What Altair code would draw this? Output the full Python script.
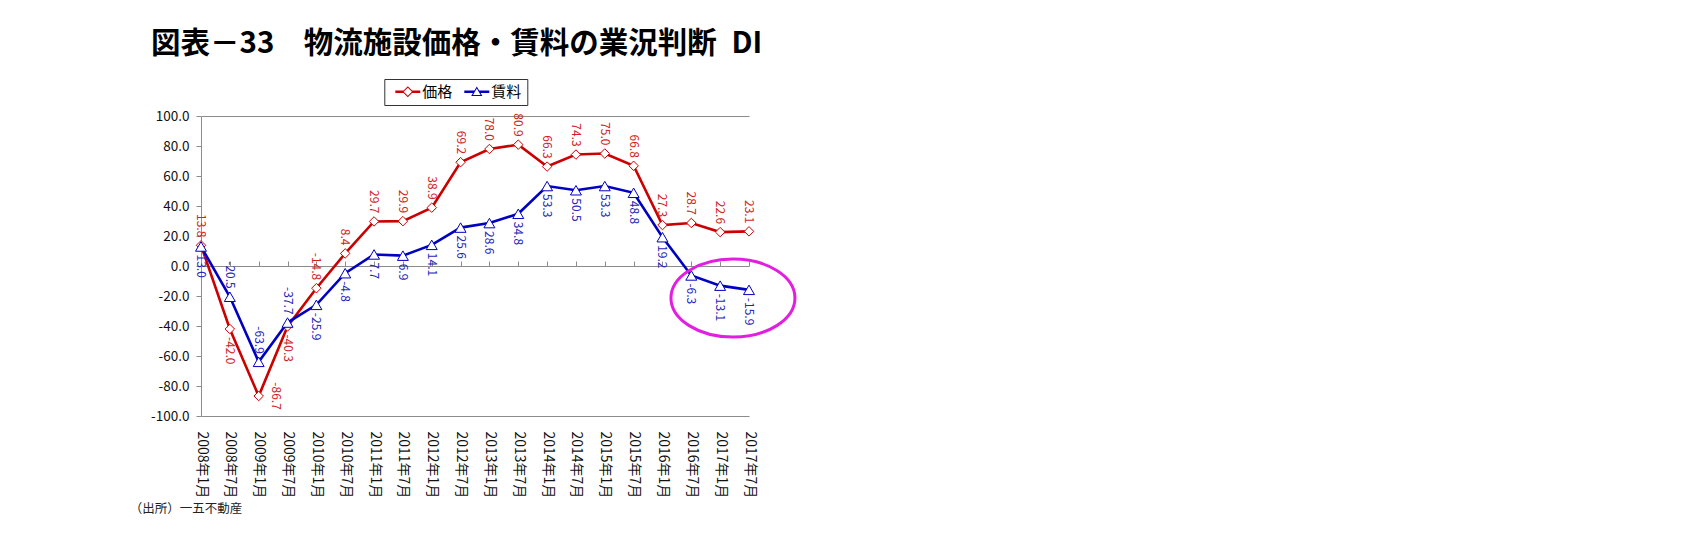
import altair as alt
import pandas as pd

# ---------------- data ----------------
dates = ["2008年1月", "2008年7月", "2009年1月", "2009年7月", "2010年1月", "2010年7月",
         "2011年1月", "2011年7月", "2012年1月", "2012年7月", "2013年1月", "2013年7月",
         "2014年1月", "2014年7月", "2015年1月", "2015年7月", "2016年1月", "2016年7月",
         "2017年1月", "2017年7月"]
price = [13.8, -42.0, -86.7, -40.3, -14.8, 8.4, 29.7, 29.9, 38.9, 69.2,
         78.0, 80.9, 66.3, 74.3, 75.0, 66.8, 27.3, 28.7, 22.6, 23.1]
rent = [13.0, -20.5, -63.9, -37.7, -25.9, -4.8, 7.7, 6.9, 14.1, 25.6,
        28.6, 34.8, 53.3, 50.5, 53.3, 48.8, 19.2, -6.3, -13.1, -15.9]
series = ["価格", "賃料"]
y_ticks = [-100, -80, -60, -40, -20, 0, 20, 40, 60, 80, 100]
title_text = "図表－33　物流施設価格・賃料の業況判断\u2002DI"
source_text = "（出所）一五不動産"

# ---------------- style ----------------
FONT = "Noto Sans CJK JP"
RED, RED_LBL = "#CC0000", "#D42222"
BLUE, BLUE_LBL = "#0000C0", "#2626BC"
MAGENTA = "#E21FE0"
GREY = "#8C8C8C"
W, H = 548, 300

rows = []
for d, p, r in zip(dates, price, rent):
    if p >= r:
        ppos, rpos = "above", "below"
    else:
        ppos, rpos = ("right" if p < -80 else "below"), "above"
    rows.append(dict(date=d, series=series[0], value=p, label=f"{p:.1f}", pos=ppos))
    rows.append(dict(date=d, series=series[1], value=r, label=f"{r:.1f}", pos=rpos))
df = pd.DataFrame(rows)

# highlighted region anchor (latest rent readings)
ell_df = pd.DataFrame({"date": [dates[-2]], "value": [rent[-2]]})


def fmt(v):
    return f"{v:.4f}".rstrip("0").rstrip(".")


# legend symbol paths (line + hollow marker), units of 7px, centre 7px from column left
S = 7.0
L, R, M, HB = -1.5, 23.5, 11.0, 1.3


def P(x, y):
    return f"{fmt(x / S)},{fmt(y / S)}"


a, b = 5.5, 4.1
diamond_path = (
    f"M{P(L, -HB)}L{P(M - a + 1.5, -HB)}L{P(M - a + 1.5, HB)}L{P(L, HB)}Z"
    f"M{P(M + a - 1.5, -HB)}L{P(R, -HB)}L{P(R, HB)}L{P(M + a - 1.5, HB)}Z"
    f"M{P(M, -a)}L{P(M + a, 0)}L{P(M, a)}L{P(M - a, 0)}Z"
    f"M{P(M, -b)}L{P(M - b, 0)}L{P(M, b)}L{P(M + b, 0)}Z"
)
ty, by, hw = -5.2, 4.3, 5.6
cy = (ty + 2 * by) / 3
k = 0.68
ity, iby, ihw = cy + k * (ty - cy), cy + k * (by - cy), k * hw
tri_path = (
    f"M{P(L, -HB)}L{P(M - 1.9, -HB)}L{P(M - 3.2, HB)}L{P(L, HB)}Z"
    f"M{P(M + 1.9, -HB)}L{P(R, -HB)}L{P(R, HB)}L{P(M + 3.2, HB)}Z"
    f"M{P(M, ty)}L{P(M + hw, by)}L{P(M - hw, by)}Z"
    f"M{P(M, ity)}L{P(M - ihw, iby)}L{P(M + ihw, iby)}Z"
)

# ellipse outline path (unit = 62px) offset from anchor point
ES = 62.0
ecx, ecy, erx, ery = 12.8 / ES, 12.4 / ES, 1.0, 39.0 / ES
kk = 0.5523
ellipse_path = (
    f"M{fmt(ecx + erx)},{fmt(ecy)}"
    f"C{fmt(ecx + erx)},{fmt(ecy + kk * ery)} {fmt(ecx + kk * erx)},{fmt(ecy + ery)} {fmt(ecx)},{fmt(ecy + ery)}"
    f"C{fmt(ecx - kk * erx)},{fmt(ecy + ery)} {fmt(ecx - erx)},{fmt(ecy + kk * ery)} {fmt(ecx - erx)},{fmt(ecy)}"
    f"C{fmt(ecx - erx)},{fmt(ecy - kk * ery)} {fmt(ecx - kk * erx)},{fmt(ecy - ery)} {fmt(ecx)},{fmt(ecy - ery)}"
    f"C{fmt(ecx + kk * erx)},{fmt(ecy - ery)} {fmt(ecx + erx)},{fmt(ecy - kk * ery)} {fmt(ecx + erx)},{fmt(ecy)}Z"
)

# ---------------- scales / axes ----------------
xs = alt.Scale(domain=dates, type="point", padding=0)
ys = alt.Scale(domain=[-100, 100], nice=False, zero=False)

y_axis = alt.Axis(
    values=y_ticks,
    labelExpr="replace(format(datum.value, '.1f'), '\u2212', '-')",
    title=None,
    domainColor=GREY, tickColor=GREY, tickSize=5,
    labelPadding=7, labelFont=FONT, labelFontSize=13.5, labelColor="#111",
    grid=True, gridColor=GREY, gridWidth=1,
    gridOpacity={"condition": {"test": "abs(datum.value) == 100", "value": 1}, "value": 0},
)
x_bottom = alt.Axis(
    orient="bottom", domain=False, ticks=False, grid=False,
    labelAngle=90, labelFont=FONT, labelFontSize=14, labelColor="#111",
    labelPadding=15, labelOverlap=False,
    title=source_text, titleFont=FONT, titleFontSize=12.5, titleFontWeight="normal",
    titleColor="#222", titleAnchor="start", titleAlign="left", titleBaseline="middle",
    titleX=-71.7, titleY=92,
)
x_top = alt.Axis(
    orient="top", offset=-H / 2, domain=True, domainColor=GREY,
    ticks=True, tickColor=GREY, tickSize=5, labels=False, title=None, grid=False,
)

yenc = alt.Y("value:Q", scale=ys, axis=y_axis)
x_none = alt.X("date:N", scale=xs, axis=None)

base = alt.Chart(df)
is_p = f"datum.series == '{series[0]}'"
is_r = f"datum.series == '{series[1]}'"

red_line = base.transform_filter(is_p).mark_line(color=RED, strokeWidth=2.6).encode(
    x=alt.X("date:N", scale=xs, axis=x_bottom), y=yenc)
red_pts = base.transform_filter(is_p).mark_point(
    shape="diamond", size=90, filled=True, fill="white", stroke=RED, strokeWidth=1, opacity=1
).encode(x=x_none, y=yenc)
blue_line = base.transform_filter(is_r).mark_line(color=BLUE, strokeWidth=2.6).encode(
    x=alt.X("date:N", scale=xs, axis=x_top), y=yenc)
blue_pts = base.transform_filter(is_r).mark_point(
    shape="triangle-up", size=120, filled=True, fill="white", stroke=BLUE, strokeWidth=1, opacity=1
).encode(x=x_none, y=yenc)


def labels(cond, pos, color):
    kw = dict(angle=90, font=FONT, fontSize=12, color=color, baseline="middle")
    if pos == "above":
        kw.update(align="right", dx=-8)
    elif pos == "below":
        kw.update(align="left", dx=8)
    else:
        kw.update(align="center", dy=-17)
    return base.transform_filter(f"{cond} && datum.pos == '{pos}'").mark_text(**kw).encode(
        x=x_none, y=yenc, text="label:N")


label_layers = [labels(is_p, p, RED_LBL) for p in ("above", "below", "right")] + \
               [labels(is_r, p, BLUE_LBL) for p in ("above", "below")]

legend_layer = base.transform_filter("false").mark_point(
    filled=True, size=196, opacity=1, strokeWidth=0
).encode(
    x=x_none, y=yenc,
    color=alt.Color("series:N", scale=alt.Scale(domain=series, range=[RED, BLUE]),
                    legend=alt.Legend(title=None)),
    shape=alt.Shape("series:N", scale=alt.Scale(domain=series, range=[diamond_path, tri_path]),
                    legend=alt.Legend(title=None)),
)

ellipse = alt.Chart(ell_df).mark_point(
    shape=ellipse_path, size=(2 * ES) ** 2, filled=False, stroke=MAGENTA, strokeWidth=3, opacity=1
).encode(x=x_none, y=alt.Y("value:Q", scale=ys, axis=y_axis))

chart = alt.layer(
    red_line, red_pts, blue_line, blue_pts, *label_layers, legend_layer, ellipse
).resolve_axis(x="independent").properties(
    width=W, height=H,
    padding={"left": 121, "top": 21, "right": 10, "bottom": 5},
    title=alt.TitleParams(
        text=title_text, font=FONT, fontSize=29.5, fontWeight="bold", color="#000",
        anchor="start", frame="group", dx=-50, offset=19,
    ),
).configure_view(stroke=None).configure_legend(
    orient="none", legendX=183.3, legendY=-37, direction="horizontal",
    strokeColor="#333", fillColor="white", padding=5,
    labelFont=FONT, labelFontSize=15, labelColor="#000", labelOffset=18,
    columnPadding=5, symbolSize=196, symbolStrokeWidth=0,
)

chart.save("out.html", embed_options={"renderer": "svg", "actions": False})
